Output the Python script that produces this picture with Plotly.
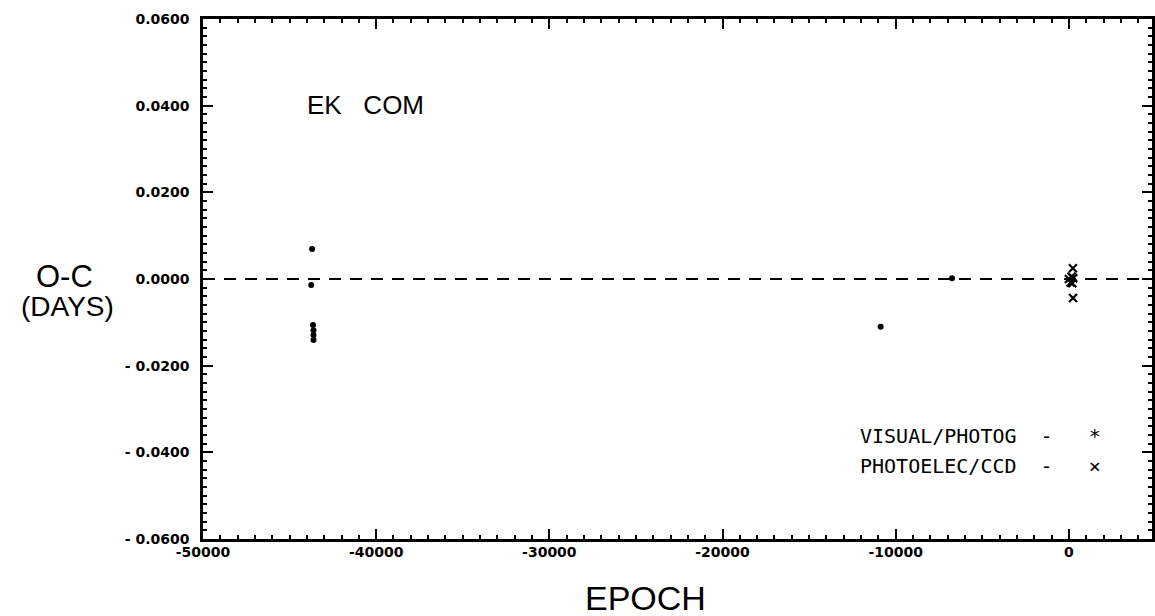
import plotly.graph_objects as go

# Visual / photographic timings
visual_epoch = [-43700, -43750, -43650, -43620, -43620, -43620, -10870, -6750]
visual_oc = [0.0069, -0.0014, -0.0106, -0.0118, -0.0129, -0.0141, -0.0110, 0.0002]

# Photoelectric / CCD timings
pe_epoch = [0, 100, 150, 200, 250, 230, 240]
pe_oc = [0.0000, -0.0008, 0.0005, -0.0010, 0.0002, 0.0025, -0.0044]

x_range = [-50000, 4800]
y_range = [-0.06, 0.06]
x_tickvals = [-50000, -40000, -30000, -20000, -10000, 0]
x_ticktext = ["-50000", "-40000", "-30000", "-20000", "-10000", "0"]
y_tickvals = [0.06, 0.04, 0.02, 0.0, -0.02, -0.04, -0.06]
y_ticktext = ["0.0600", "0.0400", "0.0200", "0.0000", "- 0.0200", "- 0.0400", "- 0.0600"]

W, H = 1155, 616
ML, MR, MT, MB = 203, 3, 19, 77

fig = go.Figure()

# zero reference line
fig.add_trace(go.Scatter(x=x_range, y=[0, 0], mode="lines",
                         line=dict(color="black", width=2, dash="12px,9px"),
                         showlegend=False, hoverinfo="skip"))

fig.add_trace(go.Scatter(x=visual_epoch, y=visual_oc, mode="markers",
                         marker=dict(symbol="circle", size=6, color="black"),
                         name="VISUAL/PHOTOG", showlegend=False))
fig.add_trace(go.Scatter(x=pe_epoch, y=pe_oc, mode="markers",
                         marker=dict(symbol="x-thin", size=8, color="black",
                                     line=dict(width=2.2, color="black")),
                         name="PHOTOELEC/CCD", showlegend=False))

tickfont = dict(family="DejaVu Sans", size=14, color="black", weight="bold")
fig.update_xaxes(range=x_range, tickvals=x_tickvals, ticktext=x_ticktext,
                 ticks="inside", ticklen=10, tickwidth=2, tickcolor="black",
                 minor=dict(dtick=1000, ticks="inside", ticklen=4, tickwidth=2, tickcolor="black"),
                 showline=True, linewidth=2.5, linecolor="black", mirror="ticks",
                 showgrid=False, zeroline=False, tickfont=tickfont, ticklabelstandoff=-2)
fig.update_yaxes(range=y_range, tickvals=y_tickvals, ticktext=y_ticktext,
                 ticks="inside", ticklen=10, tickwidth=2, tickcolor="black",
                 minor=dict(dtick=0.002, ticks="inside", ticklen=4, tickwidth=2, tickcolor="black"),
                 showline=True, linewidth=2.5, linecolor="black", mirror="ticks",
                 showgrid=False, zeroline=False, tickfont=tickfont, ticklabelstandoff=8)

sans = "Liberation Sans"
mono = "DejaVu Sans Mono"
anns = [
    dict(x=305, y=105, text="EK   COM", size=26, xanchor="left", family=sans),
    dict(x=64, y=276, text="O-C", size=31, xanchor="center", family=sans),
    dict(x=67, y=306, text="(DAYS)", size=28, xanchor="center", family=sans),
    dict(x=645, y=598, text="EPOCH", size=34, xanchor="center", family=sans),
    dict(x=858, y=436, text="VISUAL/PHOTOG  -   *", size=20, xanchor="left", family=mono),
    dict(x=858, y=466, text="PHOTOELEC/CCD  -   ×", size=20, xanchor="left", family=mono),
]
pw = W - ML - MR
ph = H - MT - MB
for a in anns:
    fig.add_annotation(x=(a["x"] - ML) / pw, y=1 - (a["y"] - MT) / ph,
                       xref="paper", yref="paper",
                       text=a["text"], showarrow=False, xanchor=a["xanchor"], yanchor="middle",
                       font=dict(family=a["family"], size=a["size"], color="black"))

fig.update_layout(width=W, height=H, plot_bgcolor="white", paper_bgcolor="white",
                  margin=dict(l=ML, r=MR, t=MT, b=MB, autoexpand=False))

fig.write_html("out.html", config={"displayModeBar": False},
               post_script="document.body.style.margin='0';document.body.style.overflow='hidden';")
